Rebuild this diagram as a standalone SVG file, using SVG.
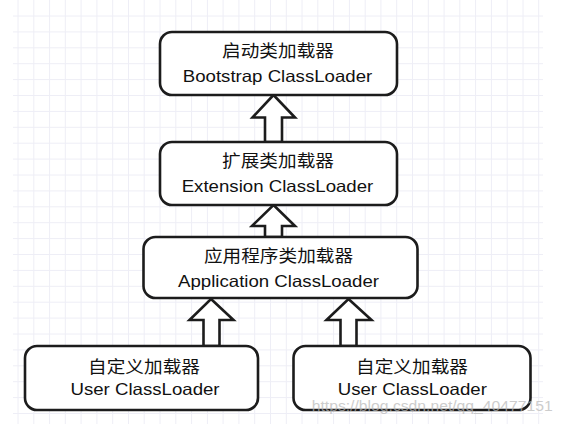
<svg xmlns="http://www.w3.org/2000/svg" width="563" height="424" viewBox="0 0 563 424">
<style>
.grid{stroke:#eeeef6;stroke-width:1;fill:none}
.box{fill:#fff;stroke:#1c1c1c;stroke-width:2.6}
.arr{fill:#fff;stroke:#1c1c1c;stroke-width:2.6;stroke-linejoin:miter}
.t{font-family:"Liberation Sans","Noto Sans CJK SC",sans-serif;font-size:16.5px;fill:#111;text-anchor:middle}
.wm{font-family:"Liberation Sans",sans-serif;font-size:15px;fill:#b8b8b8;opacity:0.7}
</style>
<rect width="563" height="424" fill="#fff"/>
<path class="grid" d="M18,0V424M33.8,0V424M49.6,0V424M65.3,0V424M81.1,0V424M96.9,0V424M112.7,0V424M128.5,0V424M144.2,0V424M160,0V424M175.8,0V424M191.6,0V424M207.4,0V424M223.1,0V424M238.9,0V424M254.7,0V424M270.5,0V424M286.3,0V424M302,0V424M317.8,0V424M333.6,0V424M349.4,0V424M365.2,0V424M380.9,0V424M396.7,0V424M412.5,0V424M428.3,0V424M444.1,0V424M459.8,0V424M475.6,0V424M491.4,0V424M507.2,0V424M523,0V424M538.7,0V424M13,16H543M13,31.9H543M13,47.8H543M13,63.7H543M13,79.6H543M13,95.5H543M13,111.4H543M13,127.3H543M13,143.2H543M13,159.1H543M13,175H543M13,190.9H543M13,206.8H543M13,222.7H543M13,238.6H543M13,254.5H543M13,270.4H543M13,286.3H543M13,302.2H543M13,318.1H543M13,334H543M13,349.9H543M13,365.8H543M13,381.7H543M13,397.6H543M13,413.5H543"/>
<g id="connectors">
<polygon class="arr" points="273.5,95 295,117.5 282,117.5 282,142 265,142 265,117.5 252.5,117.5"/>
<polygon class="arr" points="273.5,205 295,226 282,226 282,237 265,237 265,226 252,226"/>
<polygon class="arr" points="211,299 233.5,320 219.5,320 219.5,346 203.5,346 203.5,320 189.5,320"/>
<polygon class="arr" points="348.5,299 371.5,320 356.5,320 356.5,346 340.5,346 340.5,320 326.5,320"/>
</g>
<g id="bootstrap">
<rect class="box" x="160" y="32" width="237" height="63" rx="12"/>
<text class="t" transform="translate(278 56.5) scale(1.13 1)">启动类加载器</text>
<text class="t" transform="translate(277.5 81.5) scale(1.13 1)">Bootstrap ClassLoader</text>
</g>
<g id="extension">
<rect class="box" x="160" y="142" width="237" height="63" rx="12"/>
<text class="t" transform="translate(278 167.3) scale(1.13 1)">扩展类加载器</text>
<text class="t" transform="translate(277.5 191.5) scale(1.13 1)">Extension ClassLoader</text>
</g>
<g id="application">
<rect class="box" x="143.5" y="237" width="274" height="61" rx="12"/>
<text class="t" transform="translate(278.5 262.3) scale(1.13 1)">应用程序类加载器</text>
<text class="t" transform="translate(278.5 286.5) scale(1.13 1)">Application ClassLoader</text>
</g>
<g id="user1">
<rect class="box" x="25" y="346" width="233" height="64" rx="12"/>
<text class="t" transform="translate(144 373) scale(1.13 1)">自定义加载器</text>
<text class="t" transform="translate(145 395) scale(1.13 1)">User ClassLoader</text>
</g>
<g id="user2">
<rect class="box" x="293.5" y="346" width="237" height="64" rx="12"/>
<text class="t" transform="translate(412 373) scale(1.13 1)">自定义加载器</text>
<text class="t" transform="translate(412.3 395) scale(1.13 1)">User ClassLoader</text>
</g>
<text class="wm" x="311.7" y="411" textLength="241" lengthAdjust="spacingAndGlyphs">https://blog.csdn.net/qq_40477151</text>
</svg>
